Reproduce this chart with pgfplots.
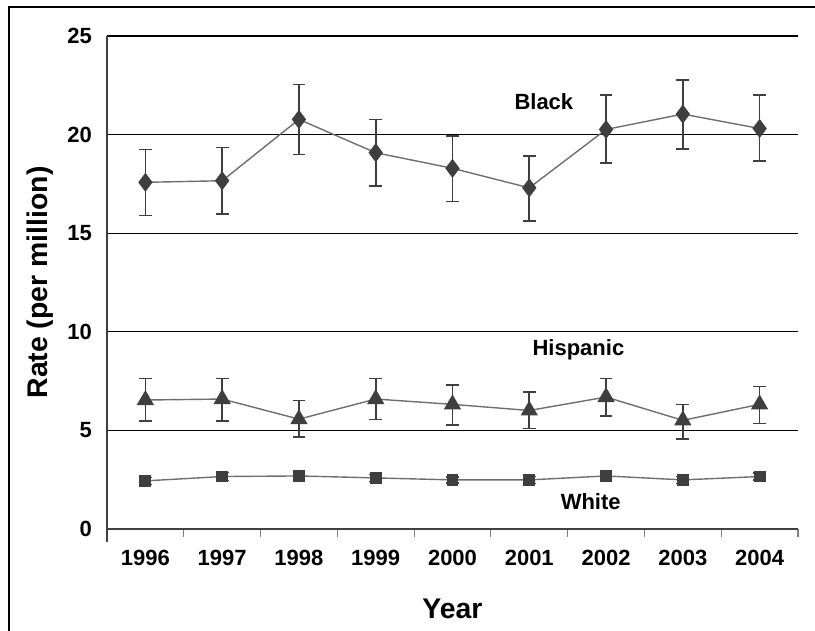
\documentclass[border=0pt]{standalone}
\usepackage{fontspec}
\setmainfont{Liberation Sans}
\usepackage{pgfplots}
\usepackage{pgfplotstable}
\pgfplotsset{compat=1.18}
\definecolor{mk}{HTML}{3F3F3F}
\definecolor{ln}{HTML}{6E6E6E}
\definecolor{ax}{HTML}{404040}

\pgfplotstableread{
x y ep em
0 17.58 1.67 1.68
1 17.66 1.69 1.69
2 20.77 1.78 1.77
3 19.08 1.69 1.68
4 18.29 1.63 1.68
5 17.30 1.61 1.69
6 20.26 1.74 1.71
7 21.04 1.72 1.78
8 20.31 1.69 1.65
}\black

\pgfplotstableread{
x y ep em
0 6.54 1.10 1.07
1 6.59 1.05 1.12
2 5.57 0.94 0.89
3 6.59 1.05 1.03
4 6.32 0.98 1.05
5 6.01 0.95 0.91
6 6.69 0.95 0.96
7 5.51 0.81 0.95
8 6.32 0.90 0.97
}\hisp

\pgfplotstableread{
x y ep em
0 2.44 0.18 0.18
1 2.66 0.20 0.20
2 2.69 0.18 0.18
3 2.59 0.18 0.18
4 2.49 0.16 0.16
5 2.49 0.18 0.18
6 2.69 0.18 0.18
7 2.49 0.18 0.18
8 2.66 0.18 0.18
}\white

\begin{document}
\begin{tikzpicture}[x=1pt,y=1pt]
\path[use as bounding box] (0,0) rectangle (407.5,315.5);
\draw[line width=1.1pt] (4.5,-2) -- (4.5,312) -- (409,312);
\begin{axis}[
  at={(53.5pt,51pt)}, anchor=south west,
  scale only axis, width=345.5pt, height=246.5pt,
  xmin=-0.5, xmax=8.5, ymin=0, ymax=25,
  axis x line*=bottom, axis y line*=left,
  axis line style={ax, line width=0.75pt},
  ytick={0,5,...,25},
  ymajorgrids, grid style={black, line width=0.55pt},
  xtick={0,...,8},
  xticklabels={1996,1997,1998,1999,2000,2001,2002,2003,2004},
  minor xtick={-0.5,0.5,...,8.5},
  tick align=outside,
  major tick length=0pt, minor tick length=4pt,
  minor tick style={gray, line width=0.6pt},
  major tick style={draw=none},
  /pgf/number format/assume math mode=true,
  ticklabel style={font=\bfseries\fontsize{11}{13}\selectfont, text=black},
  xticklabel style={yshift=-7pt},
  yticklabel style={xshift=-4pt},
  xlabel={Year}, ylabel={Rate (per million)},
  label style={font=\bfseries\fontsize{14.2}{16}\selectfont},
  xlabel style={at={(axis description cs:0.5,-0.163)}, anchor=center},
  ylabel style={at={(axis description cs:-0.097,0.5)}, anchor=center},
  clip=false,
]
\draw[ax, line width=0.75pt] (axis cs:-0.5,0) -- ++(0pt,-6.5pt);

\addplot[ln, line width=0.7pt, mark=diamond*, mark size=4.2pt,
  mark options={fill=mk, draw=mk, solid},
  error bars/.cd, y dir=both, y explicit,
  error bar style={mk, line width=0.8pt},
  error mark options={mk, line width=0.8pt, mark size=3.2pt, rotate=90}]
  table[x=x, y=y, y error plus=ep, y error minus=em] {\black};

\addplot[ln, line width=0.7pt, mark=triangle*, mark size=4.3pt,
  mark options={fill=mk, draw=mk, solid},
  error bars/.cd, y dir=both, y explicit,
  error bar style={mk, line width=0.8pt},
  error mark options={mk, line width=0.8pt, mark size=3.2pt, rotate=90}]
  table[x=x, y=y, y error plus=ep, y error minus=em] {\hisp};

\addplot[ln, line width=0.7pt, mark=square*, mark size=2.6pt,
  mark options={fill=mk, draw=mk, solid},
  error bars/.cd, y dir=both, y explicit,
  error bar style={mk, line width=0.8pt},
  error mark options={mk, line width=0.8pt, mark size=3.2pt, rotate=90}]
  table[x=x, y=y, y error plus=ep, y error minus=em] {\white};

\node[font=\bfseries\fontsize{11}{13}\selectfont] at (axis cs:5.19,21.68) {Black};
\node[font=\bfseries\fontsize{11}{13}\selectfont] at (axis cs:5.64,9.08) {Hispanic};
\node[font=\bfseries\fontsize{11}{13}\selectfont] at (axis cs:5.80,1.37) {White};
\end{axis}
\end{tikzpicture}
\end{document}
